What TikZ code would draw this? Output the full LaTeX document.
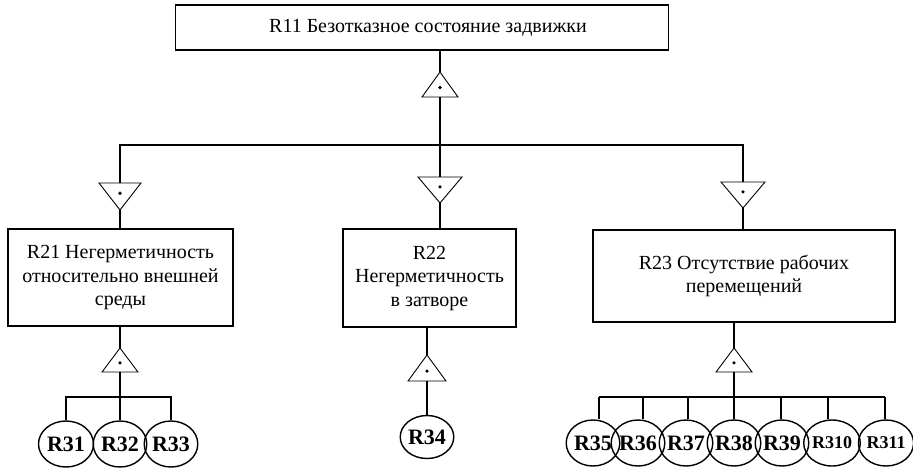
\documentclass[tikz,border=0pt]{standalone}
\usepackage{fontspec}
\setmainfont{Liberation Serif}
\usetikzlibrary{shapes.geometric}
% up gate: name, x, apex y, base y, half width
\newcommand\gUp[5]{%
  \coordinate (#1a) at (#2,#3);
  \coordinate (#1b) at (#2,#4);
  \draw[gate] (#2,#3) -- (#2-#5,#4) -- (#2+#5,#4) -- cycle;
  \fill (#2,{#3+0.62*(#4-#3)}) circle (1.8pt);}
% down gate: name, x, top y, apex y, half width
\newcommand\gDown[5]{%
  \coordinate (#1t) at (#2,#3);
  \coordinate (#1a) at (#2,#4);
  \draw[gate] (#2-#5,#3) -- (#2+#5,#3) -- (#2,#4) -- cycle;
  \fill (#2,{#3+0.38*(#4-#3)}) circle (1.8pt);}
\begin{document}
\begin{tikzpicture}[x=1pt,y=-1pt,
  line/.style={line width=1.4pt},
  gate/.style={line width=0.9pt},
  rbox/.style={draw,line width=1.3pt,align=center,inner sep=0pt,
    font=\fontsize{20}{23.5}\selectfont},
  ev/.style={draw,ellipse,line width=1.4pt,inner sep=0pt,minimum height=46pt,
    font=\bfseries\fontsize{22}{22}\selectfont},
  evs/.style={ev,font=\bfseries\fontsize{18}{18}\selectfont}]
\useasboundingbox (0,0) rectangle (913,467);

% boxes
\node[rbox,minimum width=493pt,minimum height=45pt] (r11) at (422,27.5)
  {\hspace*{12pt}R11 Безотказное состояние задвижки};
\node[rbox,minimum width=225pt,minimum height=97pt] (r21) at (120.5,277.5)
  {R21 Негерметичность\\относительно внешней\\среды};
\node[rbox,minimum width=173pt,minimum height=98pt] (r22) at (429.5,278)
  {R22\\Негерметичность\\в затворе};
\node[rbox,minimum width=302pt,minimum height=92pt] (r23) at (744,276)
  {R23 Отсутствие рабочих\\перемещений};

% gates
\gUp{g0}{440}{72}{97}{18}
\gDown{g1}{120}{183}{210}{21}
\gDown{g2}{440}{177}{203}{22}
\gDown{g3}{743}{182}{208}{22}
\gUp{g4}{120}{348}{372}{18}
\gUp{g5}{427}{355}{381}{19}
\gUp{g6}{734}{348}{372}{18}

\coordinate (bar0) at (440,145);
\coordinate (bar4) at (120,397);
\coordinate (bar6) at (734,397);

% basic events
\node[ev,minimum width=55pt] (c31) at (66,444) {R31};
\node[ev,minimum width=52pt] (c32) at (120,444) {R32};
\node[ev,minimum width=48pt] (c33) at (171,444) {R33};
\node[ev,minimum width=46pt,minimum height=43pt] (c34) at (427,437) {R34};
\node[ev,minimum width=45pt] (c35) at (593,443) {R35};
\node[ev,minimum width=45pt] (c36) at (638,443) {R36};
\node[ev,minimum width=47pt] (c37) at (686,443) {R37};
\node[ev,minimum width=50pt] (c38) at (734,443) {R38};
\node[ev,minimum width=46pt] (c39) at (782,443) {R39};
\node[evs,minimum width=51pt] (c310) at (832,443) {R310};
\node[evs,minimum width=54pt] (c311) at (886,443) {R311};

\coordinate (d35) at (599,397);
\coordinate (d36) at (643,397);
\coordinate (d37) at (688,397);
\coordinate (d39) at (781,397);
\coordinate (d310) at (828,397);
\coordinate (d311) at (885,397);

% connectors top level
\draw[line] (r11.south -| g0a) -- (g0a);
\draw[line] (g0b) -- (bar0);
\draw[line] (g1t) |- (bar0) -| (g3t);
\draw[line] (bar0) -- (g2t);
\draw[line] (g1a) -- (g1a |- r21.north);
\draw[line] (g2a) -- (g2a |- r22.north);
\draw[line] (g3a) -- (g3a |- r23.north);

% left subtree
\draw[line] (r21.south -| g4a) -- (g4a);
\draw[line] (g4b) -- (bar4);
\draw[line] (c31.north) |- (bar4) -| (c33.north);
\draw[line] (bar4) -- (c32.north);

% middle subtree
\draw[line] (r22.south -| g5a) -- (g5a);
\draw[line] (g5b) -- (c34.north);

% right subtree
\draw[line] (r23.south -| g6a) -- (g6a);
\draw[line] (g6b) -- (bar6);
\draw[line] (d35) -- (d311);
\draw[line] (bar6) -- (c38.north);
\draw[line] (d35) -- (d35 |- c35.north);
\draw[line] (d36) -- (d36 |- c36.north);
\draw[line] (d37) -- (d37 |- c37.north);
\draw[line] (d39) -- (d39 |- c39.north);
\draw[line] (d310) -- (d310 |- c310.north);
\draw[line] (d311) -- (d311 |- c311.north);
\end{tikzpicture}
\end{document}
